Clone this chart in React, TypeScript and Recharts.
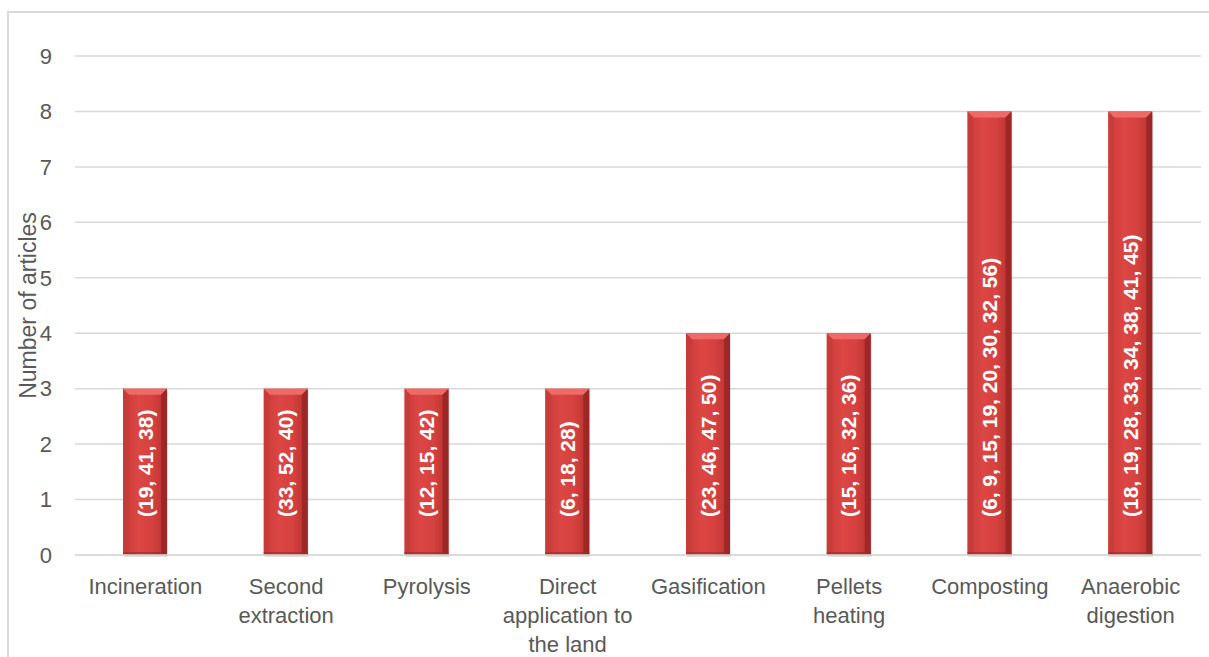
import React from 'react';
import { BarChart, Bar, XAxis, YAxis, CartesianGrid, LabelList } from 'recharts';

// categories (line breaks as in the original axis)
const categories = [
  'Incineration',
  'Second\nextraction',
  'Pyrolysis',
  'Direct\napplication to\nthe land',
  'Gasification',
  'Pellets\nheating',
  'Composting',
  'Anaerobic\ndigestion',
];
const articleCounts = [3, 3, 3, 3, 4, 4, 8, 8];
const references = [
  '(19, 41, 38)',
  '(33, 52, 40)',
  '(12, 15, 42)',
  '(6, 18, 28)',
  '(23, 46, 47, 50)',
  '(15, 16, 32, 36)',
  '(6, 9, 15, 19, 20, 30, 32, 56)',
  '(18, 19, 28, 33, 34, 38, 41, 45)',
];
const yTicks = [0, 1, 2, 3, 4, 5, 6, 7, 8, 9];

const data = categories.map((name, i) => ({
  name,
  value: articleCounts[i],
  refs: references[i],
}));

const FONT = '"Liberation Sans", Arial, sans-serif';
const TEXT = '#595959';

function BevelBar(props: any) {
  const { x, y, width, height } = props;
  if (!height || height <= 0) return null;
  const b = 6;
  return (
    <g>
      <rect x={x + 1} y={y + 2} width={width} height={height} fill="rgba(0,0,0,0.12)" />
      <rect x={x} y={y} width={width} height={height} fill="url(#barGrad)" />
      {/* top bevel */}
      <polygon
        points={`${x},${y} ${x + width},${y} ${x + width - b},${y + b} ${x + b},${y + b}`}
        fill="#ef6a66"
      />
      {/* left edge */}
      <polygon
        points={`${x},${y} ${x + b},${y + b} ${x + b},${y + height - 2} ${x},${y + height}`}
        fill="#c53a38"
        opacity={0.6}
      />
      {/* right edge */}
      <polygon
        points={`${x + width},${y} ${x + width - b},${y + b} ${x + width - b},${y + height - 2} ${x + width},${y + height}`}
        fill="#8e2422"
        opacity={0.7}
      />
      <rect x={x} y={y + height - 3} width={width} height={3} fill="#9c2826" opacity={0.6} />
    </g>
  );
}

function RefLabel(props: any) {
  const { x, y, width, height, value } = props;
  const cx = x + width / 2;
  const by = y + height - 38;
  return (
    <text
      x={cx}
      y={by}
      transform={`rotate(-90, ${cx}, ${by})`}
      textAnchor="start"
      dominantBaseline="central"
      fill="#ffffff"
      fontFamily={FONT}
      fontWeight="bold"
      fontSize={21}
    >
      {value}
    </text>
  );
}

function CategoryTick(props: any) {
  const { x, y, payload } = props;
  const lines = String(payload.value).split('\n');
  return (
    <g>
      {lines.map((line, i) => (
        <text
          key={i}
          x={x}
          y={y + 23 + i * 29}
          textAnchor="middle"
          dominantBaseline="central"
          fill={TEXT}
          fontFamily={FONT}
          fontSize={22}
        >
          {line}
        </text>
      ))}
    </g>
  );
}

function YTitle(props: any) {
  const vb = props.viewBox;
  const cx = 28;
  const cy = vb.y + vb.height / 2;
  return (
    <text
      x={cx}
      y={cy}
      transform={`rotate(-90, ${cx}, ${cy})`}
      textAnchor="middle"
      dominantBaseline="central"
      fill={TEXT}
      fontFamily={FONT}
      fontSize={23}
    >
      Number of articles
    </text>
  );
}

export default function App() {
  return (
    <div style={{ position: 'absolute', left: 0, top: 0, width: 1209, height: 657, background: '#fff', overflow: 'hidden' }}>
      <div
        style={{
          position: 'absolute',
          left: 7,
          top: 11,
          width: 1220,
          height: 700,
          border: '2px solid #d9d9d9',
          boxSizing: 'border-box',
        }}
      />
      <div style={{ position: 'absolute', left: 0, top: 0 }}>
        <BarChart
          width={1209}
          height={657}
          data={data}
          margin={{ top: 56, right: 8, left: 15, bottom: 0 }}
          barSize={44}
        >
          <defs>
            <linearGradient id="barGrad" x1="0" y1="0" x2="1" y2="0">
              <stop offset="0%" stopColor="#c93c3a" />
              <stop offset="35%" stopColor="#dc4643" />
              <stop offset="65%" stopColor="#d64240" />
              <stop offset="100%" stopColor="#b5302e" />
            </linearGradient>
          </defs>
          <CartesianGrid vertical={false} stroke="#d9d9d9" strokeWidth={1.5} />
          <XAxis
            dataKey="name"
            axisLine={{ stroke: '#d9d9d9', strokeWidth: 1.5 }}
            tickLine={false}
            interval={0}
            tick={<CategoryTick />}
            height={102}
          />
          <YAxis
            width={60}
            domain={[0, 9]}
            ticks={yTicks}
            axisLine={false}
            tickLine={false}
            tickMargin={17}
            tick={{ fill: TEXT, fontSize: 22, fontFamily: FONT }}
            label={<YTitle />}
          />
          <Bar dataKey="value" shape={<BevelBar />} isAnimationActive={false}>
            <LabelList dataKey="refs" content={<RefLabel />} />
          </Bar>
        </BarChart>
      </div>
    </div>
  );
}
